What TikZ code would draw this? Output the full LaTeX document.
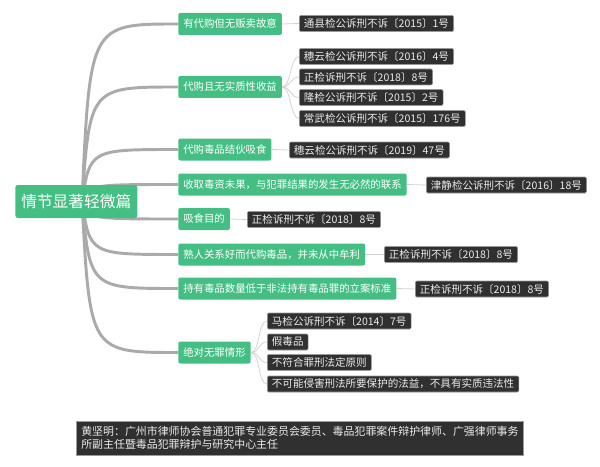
\documentclass[tikz,border=0pt]{standalone}
\usepackage{fontspec}
\setmainfont{Noto Sans CJK SC}
\usepackage{xcolor}
\usepackage{tikz}
\usetikzlibrary{positioning, calc, backgrounds}

\definecolor{mindgreen}{HTML}{45BE84}
\definecolor{leafdark}{HTML}{303030}
\definecolor{trunkgray}{HTML}{AAAAAA}
\definecolor{twiggray}{HTML}{D2D2D2}

\begin{document}
\begin{tikzpicture}[
    x=0.75pt, y=-0.75pt,
    rootbox/.style={rectangle, fill=mindgreen, text=white, rounded corners=2pt, minimum height=24.75pt, inner xsep=4.5pt, inner ysep=0pt, anchor=west, font=\fontsize{11.8}{13}\selectfont},
    branch/.style={rectangle, fill=mindgreen, text=white, rounded corners=1.5pt, minimum height=16.5pt, inner xsep=3.75pt, inner ysep=0pt, anchor=west, font=\fontsize{7.8}{9}\selectfont},
    leaf/.style={rectangle, fill=leafdark, draw=gray!80, line width=0.4pt, text=white!92!black, rounded corners=1pt, minimum height=12pt, inner xsep=3.5pt, inner ysep=0pt, anchor=west, font=\fontsize{7.9}{9}\selectfont},
    notebox/.style={rectangle, fill=leafdark, draw=gray!80, line width=0.4pt, text=white!92!black, minimum height=25.5pt, minimum width=329pt, inner xsep=3.75pt, inner ysep=0pt, align=left, anchor=west, font=\fontsize{8.2}{10}\selectfont},
    trunk/.style={line width=2.2pt, trunkgray},
    twig/.style={line width=0.6pt, twiggray},
]
\useasboundingbox (0,0) rectangle (600,467);

\node[rootbox] (root) at (15, 201.5) {情节显著轻微篇};
\coordinate (hub) at (82, 201.5);

\node[branch] (b1) at (178, 24) {有代购但无贩卖故意};
\node[branch] (b2) at (178, 87) {代购且无实质性收益};
\node[branch] (b3) at (178, 149.5) {代购毒品结伙吸食};
\node[branch] (b4) at (178, 184.5) {收取毒资未果，与犯罪结果的发生无必然的联系};
\node[branch] (b5) at (178, 219) {吸食目的};
\node[branch] (b6) at (178, 254.5) {熟人关系好而代购毒品，并未从中牟利};
\node[branch] (b7) at (178, 288.5) {持有毒品数量低于非法持有毒品罪的立案标准};
\node[branch] (b8) at (178, 352.5) {绝对无罪情形};

\node[leaf] (l1) at (299, 23.5) {通县检公诉刑不诉〔2015〕1号};
\node[leaf] (l2) at (299, 56.5) {穗云检公诉刑不诉〔2016〕4号};
\node[leaf] (l3) at (299, 77) {正检诉刑不诉〔2018〕8号};
\node[leaf] (l4) at (299, 97.5) {隆检公诉刑不诉〔2015〕2号};
\node[leaf] (l5) at (299, 118.5) {常武检公诉刑不诉〔2015〕176号};
\node[leaf] (l6) at (289, 150) {穗云检公诉刑不诉〔2019〕47号};
\node[leaf] (l7) at (426, 185) {津静检公诉刑不诉〔2016〕18号};
\node[leaf] (l8) at (247, 219.5) {正检诉刑不诉〔2018〕8号};
\node[leaf] (l9) at (384, 254.5) {正检诉刑不诉〔2018〕8号};
\node[leaf] (l10) at (415, 289) {正检诉刑不诉〔2018〕8号};
\node[leaf] (l11) at (267, 321) {马检公诉刑不诉〔2014〕7号};
\node[leaf] (l12) at (267, 342) {假毒品};
\node[leaf] (l13) at (267, 362.5) {不符合罪刑法定原则};
\node[leaf] (l14) at (267, 384) {不可能侵害刑法所要保护的法益，不具有实质违法性};

\node[notebox] (note) at (76, 438) {黄坚明：广州市律师协会普通犯罪专业委员会委员、毒品犯罪案件辩护律师、广强律师事务\\所副主任暨毒品犯罪辩护与研究中心主任};

\begin{scope}[on background layer]
\foreach \b in {b1,b2,b3,b4,b5,b6,b7,b8}
    \draw[trunk] (hub) .. controls ($(hub |- \b.west)+(8,0)$) .. (\b.west);
\draw[twig] (b1.east) -- (l1.west);
\foreach \l in {l2,l3,l4,l5}
    \draw[twig] (b2.east) .. controls ($(b2.east)+(9,0)$) and ($(\l.west)+(-9,0)$) .. (\l.west);
\draw[twig] (b3.east) -- (l6.west);
\draw[twig] (b4.east) -- (l7.west);
\draw[twig] (b5.east) -- (l8.west);
\draw[twig] (b6.east) -- (l9.west);
\draw[twig] (b7.east) -- (l10.west);
\foreach \l in {l11,l12,l13,l14}
    \draw[twig] (b8.east) .. controls ($(b8.east)+(9,0)$) and ($(\l.west)+(-9,0)$) .. (\l.west);
\end{scope}

\end{tikzpicture}
\end{document}
